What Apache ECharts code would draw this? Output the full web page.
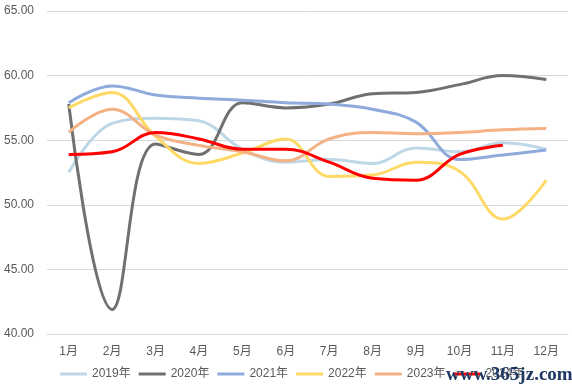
<!DOCTYPE html>
<html><head><meta charset="utf-8">
<script src="https://cdn.jsdelivr.net/npm/echarts@6/dist/echarts.min.js"></script>
<style>html,body{margin:0;padding:0;background:#fff}#c{width:572px;height:388px}</style>
</head><body><div id="c"></div>
<script>
const categories = ['1月','2月','3月','4月','5月','6月','7月','8月','9月','10月','11月','12月'];
const yTicks = [40, 45, 50, 55, 60, 65];
const s2019 = [52.5, 56.3, 56.7, 56.5, 54.3, 53.3, 53.5, 53.2, 54.4, 54.1, 54.8, 54.3];
const s2020 = [57.8, 41.9, 54.7, 53.9, 57.9, 57.5, 57.8, 58.6, 58.7, 59.3, 60.0, 59.7];
const s2021 = [57.9, 59.2, 58.5, 58.25, 58.1, 57.9, 57.8, 57.4, 56.4, 53.5, 53.85, 54.25];
const s2022 = [57.5, 58.7, 55.3, 53.2, 54.0, 55.1, 52.2, 52.3, 53.3, 52.6, 48.9, 51.9];
const s2023 = [55.6, 57.4, 55.4, 54.6, 54.1, 53.4, 55.1, 55.6, 55.5, 55.6, 55.8, 55.9];
const s2024 = [53.9, 54.1, 55.6, 55.1, 54.3, 54.3, 53.3, 52.05, 51.9, 53.9, 54.6];
const seriesNames = ['2019年','2020年','2021年','2022年','2023年','2024年'];
const seriesData = [s2019, s2020, s2021, s2022, s2023, s2024];
const colors = ['#BDD7E7','#707070','#8FAADC','#FFD966','#F4B183','#FF0000'];

const font = "'Liberation Sans','Noto Sans CJK SC',sans-serif";
const chart = echarts.init(document.getElementById('c'), null, {renderer:'canvas'});
chart.setOption({
  animation:false,
  color: colors,
  textStyle:{fontFamily:font},
  grid:{left:47, right:4, top:11, bottom:54},
  xAxis:{type:'category', data:categories, boundaryGap:true,
    axisLine:{lineStyle:{color:'#D9D9D9'}}, axisTick:{show:false},
    axisLabel:{color:'#595959', fontSize:12, margin:12, fontFamily:font}},
  yAxis:{type:'value', min:yTicks[0], max:yTicks[yTicks.length-1], interval:5,
    axisLine:{show:false}, axisTick:{show:false},
    splitLine:{lineStyle:{color:'#D9D9D9'}},
    axisLabel:{color:'#595959', fontSize:12, margin:13, formatter:v=>v.toFixed(2), fontFamily:font}},
  legend:{bottom:3, left:55, icon:'rect', itemWidth:27, itemHeight:3, itemGap:8,
    textStyle:{color:'#595959', fontSize:12, fontFamily:font},
    data:seriesNames},
  series: seriesNames.map((n,i)=>({name:n, type:'line', data:seriesData[i], smooth:0.4,
    symbol:'none', lineStyle:{width:3, color:colors[i]}, z: i===5?10:2+i})),
  graphic:[{type:'text', left:446, top:366, z:100,
    style:{text:'www.365jz.com', fill:'#1F3864', font:"bold 19px 'Liberation Serif','DejaVu Serif',serif"}}]
});
</script></body></html>
